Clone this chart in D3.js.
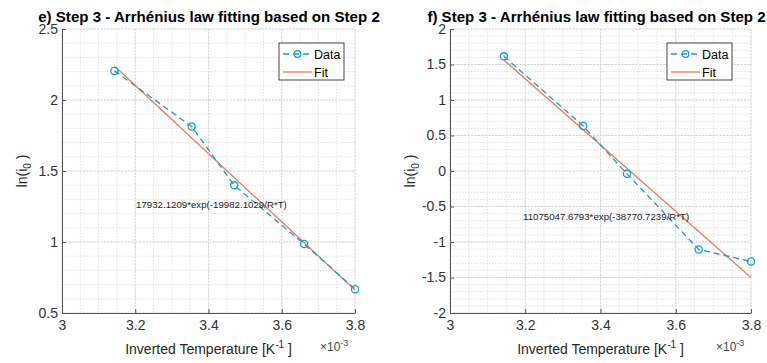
<!DOCTYPE html>
<html>
<head>
<meta charset="utf-8">
<script src="https://cdn.jsdelivr.net/npm/d3@7/dist/d3.min.js"></script>
<style>
  html, body { margin: 0; padding: 0; background: #fff; }
  svg { display: block; font-family: "Liberation Sans", Arial, Helvetica, sans-serif; }
</style>
</head>
<body>
<svg id="chart" width="767" height="363"></svg>
<script>
// Inverse temperature (1000/T, K^-1 ×10^-3) at 45, 25, 15, 0 and -10 °C
const invTemp = [3.1432, 3.3540, 3.4704, 3.6610, 3.8001];

// ln(i0) measured values for each panel
const lnI0_e = [2.205, 1.813, 1.399, 0.986, 0.668];
const lnI0_f = [1.615, 0.634, -0.04, -1.105, -1.275];

// Arrhenius fit parameters: i0 = A*exp(-Ea/(R*T))
const fitA  = [17932.1209, 11075047.6793];
const fitEa = [19982.1029, 38770.7239];
const gasR = 8.314;

const fitLabels = ["17932.1209*exp(-19982.1029/R*T)", "11075047.6793*exp(-38770.7239/R*T)"];
const titles = ["e) Step 3 - Arrhénius law fitting based on Step 2", "f) Step 3 - Arrhénius law fitting based on Step 2"];

// Axis ticks
const xTicks = [3, 3.2, 3.4, 3.6, 3.8];
const xTickLabels = ["3", "3.2", "3.4", "3.6", "3.8"];
const yTicks_e = [0.5, 1, 1.5, 2, 2.5];
const yTickLabels_e = ["0.5", "1", "1.5", "2", "2.5"];
const yTicks_f = [-2, -1.5, -1, -0.5, 0, 0.5, 1, 1.5, 2];
const yTickLabels_f = ["-2", "-1.5", "-1", "-0.5", "0", "0.5", "1", "1.5", "2"];

const dataColor = "#1b98d5";
const fitColor = "#f07a4f";
const axisColor = "#555";
const textColor = "#333";

const svg = d3.select("#chart");

function drawPanel(cfg) {
  const g = svg.append("g");
  const x = d3.scaleLinear().domain([3, 3.8]).range([cfg.left, cfg.right]);
  const y = d3.scaleLinear().domain(cfg.yDomain).range([cfg.bottom, cfg.top]);

  // minor grid
  const xMinor = d3.range(3, 3.8001, 0.05);
  const yMinor = d3.range(cfg.yDomain[0], cfg.yDomain[1] + 1e-6, 0.1);
  g.append("g").selectAll("line.vx").data(xMinor).join("line")
    .attr("x1", d => x(d)).attr("x2", d => x(d))
    .attr("y1", cfg.top).attr("y2", cfg.bottom)
    .attr("stroke", "#e2e2e2").attr("stroke-width", 1).attr("stroke-dasharray", "1.5,1.5");
  g.append("g").selectAll("line.hy").data(yMinor).join("line")
    .attr("x1", cfg.left).attr("x2", cfg.right)
    .attr("y1", d => y(d)).attr("y2", d => y(d))
    .attr("stroke", "#e2e2e2").attr("stroke-width", 1).attr("stroke-dasharray", "1.5,1.5");

  // major grid
  g.append("g").selectAll("line").data(xTicks).join("line")
    .attr("x1", d => x(d)).attr("x2", d => x(d))
    .attr("y1", cfg.top).attr("y2", cfg.bottom)
    .attr("stroke", "#d4d4d4").attr("stroke-width", 1).attr("stroke-dasharray", "2,1.5");
  g.append("g").selectAll("line").data(cfg.yTicks).join("line")
    .attr("x1", cfg.left).attr("x2", cfg.right)
    .attr("y1", d => y(d)).attr("y2", d => y(d))
    .attr("stroke", "#d4d4d4").attr("stroke-width", 1).attr("stroke-dasharray", "2,1.5");

  // axes (inward ticks, no labels from d3 — labels placed below)
  const xAxis = d3.axisBottom(x).tickValues(xTicks).tickSizeInner(-4).tickSizeOuter(0)
    .tickFormat((d, i) => xTickLabels[i]);
  const gx = g.append("g").attr("transform", `translate(0,${cfg.bottom})`).call(xAxis);
  gx.select(".domain").attr("stroke", axisColor);
  gx.selectAll(".tick line").attr("stroke", axisColor);
  gx.selectAll(".tick text").attr("fill", textColor).attr("font-size", 14)
    .attr("font-family", "Liberation Sans, Arial, sans-serif").attr("y", 7).attr("dy", "0.71em");

  const yAxis = d3.axisLeft(y).tickValues(cfg.yTicks).tickSizeInner(-4).tickSizeOuter(0)
    .tickFormat((d, i) => cfg.yTickLabels[i]);
  const gy = g.append("g").attr("transform", `translate(${cfg.left},0)`).call(yAxis);
  gy.select(".domain").attr("stroke", axisColor);
  gy.selectAll(".tick line").attr("stroke", axisColor);
  gy.selectAll(".tick text").attr("fill", textColor).attr("font-size", 14)
    .attr("font-family", "Liberation Sans, Arial, sans-serif").attr("x", -4);

  // fit line from the Arrhenius expression
  const fitY = v => Math.log(cfg.A) - cfg.Ea * v * 1e-3 / gasR;
  const fitPts = [invTemp[0], invTemp[invTemp.length - 1]];
  g.append("path")
    .attr("d", d3.line().x(d => x(d)).y(d => y(fitY(d)))(fitPts))
    .attr("fill", "none").attr("stroke", fitColor).attr("stroke-width", 1.3);

  // measured data: dashed line + open circles
  const pts = invTemp.map((v, i) => [v, cfg.values[i]]);
  g.append("path")
    .attr("d", d3.line().x(d => x(d[0])).y(d => y(d[1]))(pts))
    .attr("fill", "none").attr("stroke", dataColor).attr("stroke-width", 1.3)
    .attr("stroke-dasharray", "6,4");
  g.append("g").selectAll("circle").data(pts).join("circle")
    .attr("cx", d => x(d[0])).attr("cy", d => y(d[1])).attr("r", 3.6)
    .attr("fill", "none").attr("stroke", dataColor).attr("stroke-width", 1.3);

  // fit expression annotation
  g.append("text").attr("x", cfg.annX).attr("y", cfg.annY)
    .attr("font-size", 9.7).attr("fill", "#222").text(cfg.fitLabel);

  // title
  g.append("text").attr("x", (cfg.left + cfg.right) / 2 + cfg.titleShift).attr("y", 22)
    .attr("text-anchor", "middle").attr("font-size", 15.1).attr("font-weight", "bold")
    .attr("fill", "#000").text(cfg.title);

  // y label ln(i_0)
  const yl = g.append("text")
    .attr("transform", `translate(${cfg.left - 35},${(cfg.top + cfg.bottom) / 2}) rotate(-90)`)
    .attr("text-anchor", "middle").attr("font-size", 14).attr("fill", "#262626");
  yl.append("tspan").text("ln(i");
  yl.append("tspan").attr("font-size", 10).attr("dy", 4).text("0");
  yl.append("tspan").attr("dy", -4).text(" )");

  // x label
  const xl = g.append("text").attr("x", (cfg.left + cfg.right) / 2).attr("y", 354)
    .attr("text-anchor", "middle").attr("font-size", 14).attr("fill", "#262626");
  xl.append("tspan").text("Inverted Temperature [K");
  xl.append("tspan").attr("font-size", 10).attr("dy", -6).text("-1");
  xl.append("tspan").attr("dy", 6).text(" ]");

  // exponent marker
  const ex = g.append("text").attr("x", cfg.right - 35).attr("y", 351)
    .attr("font-size", 12).attr("fill", "#444");
  ex.append("tspan").text("×10");
  ex.append("tspan").attr("font-size", 9).attr("dy", -5).text("-3");

  // legend
  const lg = g.append("g").attr("transform", `translate(${cfg.legX},43)`);
  lg.append("rect").attr("width", 65).attr("height", 37)
    .attr("fill", "#fff").attr("stroke", "#333").attr("stroke-width", 0.9);
  lg.append("line").attr("x1", 4).attr("x2", 33).attr("y1", 11).attr("y2", 11)
    .attr("stroke", dataColor).attr("stroke-width", 1.3).attr("stroke-dasharray", "6,4");
  lg.append("circle").attr("cx", 18.5).attr("cy", 11).attr("r", 3.3)
    .attr("fill", "none").attr("stroke", dataColor).attr("stroke-width", 1.3);
  lg.append("line").attr("x1", 4).attr("x2", 33).attr("y1", 29).attr("y2", 29)
    .attr("stroke", fitColor).attr("stroke-width", 1.3);
  lg.append("text").attr("x", 35).attr("y", 15.5).attr("font-size", 12.5).attr("fill", "#000").text("Data");
  lg.append("text").attr("x", 35).attr("y", 33.5).attr("font-size", 12.5).attr("fill", "#000").text("Fit");
}

drawPanel({
  left: 62, right: 355, top: 29, bottom: 313,
  yDomain: [0.5, 2.5], yTicks: yTicks_e, yTickLabels: yTickLabels_e,
  values: lnI0_e, A: fitA[0], Ea: fitEa[0], fitLabel: fitLabels[0],
  annX: 136, annY: 207.5, title: titles[0], titleShift: 0.5, legX: 279
});
drawPanel({
  left: 450, right: 751, top: 29, bottom: 313,
  yDomain: [-2, 2], yTicks: yTicks_f, yTickLabels: yTickLabels_f,
  values: lnI0_f, A: fitA[1], Ea: fitEa[1], fitLabel: fitLabels[1],
  annX: 523, annY: 219.5, title: titles[1], titleShift: -4, legX: 667
});
</script>
</body>
</html>
